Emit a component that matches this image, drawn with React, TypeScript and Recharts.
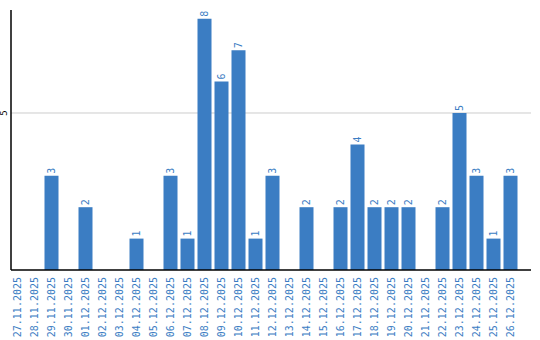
import { Bar, BarChart, CartesianGrid, LabelList, XAxis, YAxis } from "recharts"

const dates = [
  "27.11.2025", "28.11.2025", "29.11.2025", "30.11.2025", "01.12.2025",
  "02.12.2025", "03.12.2025", "04.12.2025", "05.12.2025", "06.12.2025",
  "07.12.2025", "08.12.2025", "09.12.2025", "10.12.2025", "11.12.2025",
  "12.12.2025", "13.12.2025", "14.12.2025", "15.12.2025", "16.12.2025",
  "17.12.2025", "18.12.2025", "19.12.2025", "20.12.2025", "21.12.2025",
  "22.12.2025", "23.12.2025", "24.12.2025", "25.12.2025", "26.12.2025",
]
const counts = [0, 0, 3, 0, 2, 0, 0, 1, 0, 3, 1, 8, 6, 7, 1, 3, 0, 2, 0, 2, 4, 2, 2, 2, 0, 2, 5, 3, 1, 3]
const yTicks = [5]

const BLUE = "#3b7dc3"
const FONT = "'DejaVu Sans Mono', monospace"

const data = dates.map((d, i) => ({ date: d, count: counts[i] }))

function DateTick(props: any) {
  const { x, y, payload } = props
  return (
    <text
      transform={`translate(${x},${y - 1}) rotate(-90)`}
      textAnchor="end"
      dominantBaseline="central"
      fontSize={10}
      fontFamily={FONT}
      fill={BLUE}
    >
      {payload.value}
    </text>
  )
}

function ValueTick(props: any) {
  const { y, payload } = props
  return (
    <text
      transform={`translate(4,${y}) rotate(-90)`}
      textAnchor="middle"
      dominantBaseline="central"
      fontSize={9}
      fontFamily={FONT}
      fill="#000"
    >
      {payload.value}
    </text>
  )
}

function BarLabel(props: any) {
  const { x, y, width, value } = props
  if (!value) return null
  return (
    <text
      transform={`translate(${x + width / 2},${y - 2}) rotate(-90)`}
      textAnchor="start"
      dominantBaseline="central"
      fontSize={10}
      fontFamily={FONT}
      fill={BLUE}
    >
      {value}
    </text>
  )
}

export default function App() {
  return (
    <div style={{ position: "absolute", left: 0, top: 0 }}>
      <BarChart
        width={540}
        height={340}
        data={data}
        margin={{ top: 10, right: 9, bottom: 0, left: 0 }}
        barSize={14}
      >
        <CartesianGrid vertical={false} stroke="#cccccc" horizontalValues={yTicks} />
        <XAxis
          dataKey="date"
          interval={0}
          height={70}
          tickLine={false}
          axisLine={{ stroke: "#000", strokeWidth: 1.5 }}
          padding={{ left: -2.5, right: 12.5 }}
          tick={<DateTick />}
        />
        <YAxis
          width={11}
          domain={[0, 8.28]}
          ticks={yTicks}
          tickLine={false}
          axisLine={{ stroke: "#000", strokeWidth: 1.5 }}
          tick={<ValueTick />}
        />
        <Bar dataKey="count" fill={BLUE} isAnimationActive={false}>
          <LabelList dataKey="count" content={<BarLabel />} />
        </Bar>
      </BarChart>
    </div>
  )
}
